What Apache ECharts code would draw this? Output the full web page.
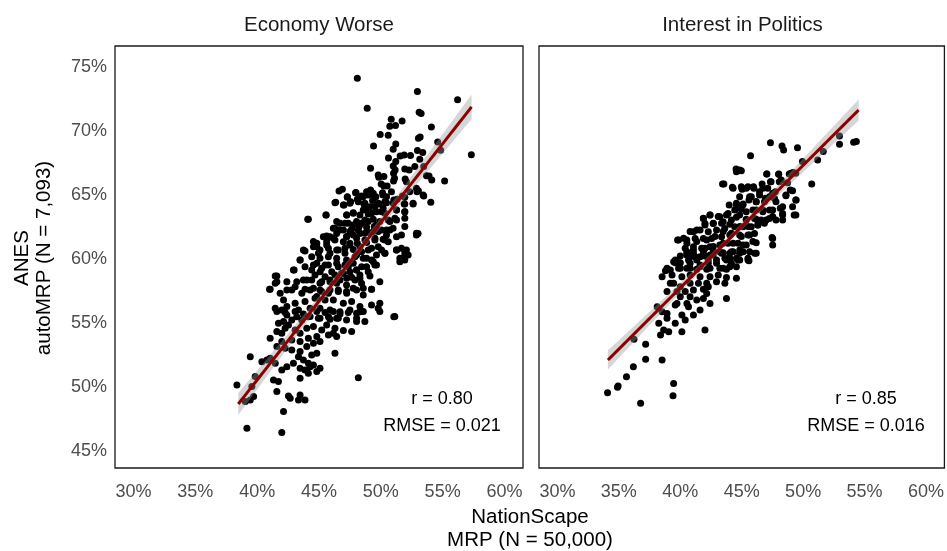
<!DOCTYPE html>
<html>
<head>
<meta charset="utf-8">
<script src="https://cdn.jsdelivr.net/npm/echarts@6/dist/echarts.min.js"></script>
<style>
  html, body { margin: 0; padding: 0; background: #ffffff; }
  #chart { width: 947px; height: 551px; }
</style>
</head>
<body>
<div id="chart"></div>
<script>
// Facet titles, tick values and the fit statistics printed in each panel
const panelTitles = ['Economy Worse', 'Interest in Politics'];
const xTicks = [30, 35, 40, 45, 50, 55, 60];
const yTicks = [45, 50, 55, 60, 65, 70, 75];
const rLabels = ['r = 0.80', 'r = 0.85'];
const rmseLabels = ['RMSE = 0.021', 'RMSE = 0.016'];

// Fitted regression line of each panel, as its two end points [x, y] in percent
const fitEndpoints = [
  [[38.47, 48.67], [57.34, 71.88]],
  [[34.11, 52.11], [54.52, 71.64]]
];

// District estimates, percent: [NationScape MRP, ANES autoMRP]
const economyWorse = [
  [48.10,74.12],[52.96,73.08],[56.21,72.45],[48.90,71.77],[53.10,71.46],[53.26,71.36],[50.84,70.91],[51.72,70.78],
  [50.73,70.37],[51.19,70.42],[54.09,70.32],[49.95,69.72],[50.60,69.66],[53.04,69.43],[53.18,69.53],[54.60,69.14],
  [51.21,68.99],[49.41,68.83],[51.00,68.57],[52.96,68.47],[53.39,68.31],[54.84,68.49],[57.32,68.15],[50.62,67.89],
  [51.56,68.05],[51.89,68.13],[52.40,68.08],[53.15,67.79],[51.21,67.61],[51.00,67.27],[49.17,67.09],[51.16,66.96],
  [51.03,66.70],[51.94,67.03],[52.29,66.96],[52.75,67.22],[53.47,67.22],[53.69,66.51],[53.90,66.49],[54.12,66.17],
  [55.16,66.10],[51.97,66.25],[52.07,66.04],[49.79,66.57],[49.84,66.38],[50.25,66.44],[51.11,66.31],[51.03,66.10],
  [50.03,65.86],[50.25,65.71],[50.51,65.71],[46.89,65.45],[47.29,64.87],[47.99,65.19],[48.58,64.87],[48.98,65.00],
  [49.17,65.39],[49.39,65.13],[50.17,65.00],[50.46,64.87],[52.88,65.52],[53.04,65.34],[53.42,65.00],[51.94,64.82],
  [51.32,64.66],
  [46.62,65.31],[47.29,64.82],[47.96,65.18],[48.44,64.92],[48.85,65.26],[49.25,65.08],[49.60,64.87],[50.14,65.18],
  [50.86,65.26],[51.75,64.92],[52.34,65.26],[52.93,65.26],[53.47,64.92],[54.04,64.43],[52.61,64.30],[51.89,64.30],
  [46.35,64.43],[47.02,64.22],[47.56,64.48],[48.10,64.66],[48.63,64.30],[49.33,64.56],[49.87,64.30],[50.46,64.40],
  [51.05,64.61],[48.85,63.96],[49.52,64.09],[50.19,63.96],[45.57,63.44],[44.09,63.10],[47.24,63.44],[47.77,63.62],
  [48.31,63.44],[48.98,63.51],[49.65,63.70],[50.33,63.57],[51.94,63.70],[51.27,63.83],[46.70,62.79],[47.37,62.79],
  [48.04,62.92],[48.71,63.05],[49.39,63.10],[49.92,62.92],[50.60,63.05],[51.13,63.18],[51.94,63.18],[46.29,62.40],
  [46.97,62.27],[47.64,62.32],[48.26,62.58],[48.85,62.47],[49.47,62.53],[46.43,62.00],[45.35,61.74],[45.89,61.74],
  [47.23,61.74],[47.77,61.87],[48.31,62.00],[48.98,62.06],[49.79,62.14],[50.46,62.27],[50.99,62.40],[50.46,61.87],
  [52.88,61.87],[53.01,62.00],[51.94,62.53],[44.82,61.22],[45.62,61.35],[46.29,61.48],[46.97,61.35],[47.50,61.22],
  [48.10,61.22],[48.85,61.28],[49.52,61.48],[50.19,61.54],[50.60,61.35],[51.27,61.74],[44.55,60.96],[45.08,60.70],
  [45.76,60.83],[46.43,60.70],[47.10,60.83],[47.77,60.75],[48.44,60.57],[49.25,60.83],[50.06,60.70],[50.33,60.44],
  [51.27,60.70],[51.67,60.83],[51.94,60.57],[51.54,60.05],[52.21,60.31],[43.87,60.62],[43.47,59.92],[44.41,60.18],
  [45.08,60.05],[45.76,60.18],[46.43,60.05],[47.23,59.92],[47.91,60.18],[48.58,60.05],[49.25,59.92],[49.65,60.31],
  [42.99,59.14],[41.59,58.67],[43.87,59.40],[44.55,59.53],[45.22,59.27],[45.76,59.53],[46.56,59.40],[47.37,59.40],
  [48.04,59.14],[48.85,59.40],[49.52,59.53],[44.68,58.75],[45.49,58.62],[46.29,58.75],[46.97,58.88],[47.64,58.57],
  [48.31,58.75],[49.12,58.67],[41.46,58.10],[42.40,58.23],[43.20,58.23],[44.01,58.36],[45.08,58.10],[45.89,58.23],
  [46.43,58.10],[47.23,57.97],[47.91,58.36],[48.44,58.10],[49.25,57.63],[49.92,58.23],[41.00,57.63],[41.86,57.32],
  [42.80,57.58],[43.61,57.32],[44.28,57.58],[45.08,57.58],[45.76,57.32],[46.56,57.58],[47.23,57.45],[48.04,57.58],
  [48.58,57.19],[42.13,56.80],[43.07,56.54],[43.87,56.67],[44.68,56.93],[45.49,56.80],[46.16,56.80],[46.97,56.54],
  [47.64,56.67],[48.31,56.28],[41.46,56.15],[41.99,56.02],[42.40,56.28],[43.34,56.02],[44.28,56.15],[45.08,56.15],
  [45.89,56.02],[46.70,55.88],[47.50,56.02],[48.31,55.88],[49.79,56.15],[49.92,56.54],[49.25,56.41],[42.40,55.62],
  [43.20,55.49],[44.14,55.49],[44.95,55.36],[45.76,55.49],[46.43,55.36],[48.04,55.36],[51.05,55.49],
  [41.59,55.89],[42.26,55.81],[43.07,55.89],[43.74,55.71],[44.82,55.89],[45.49,55.81],[46.16,55.89],[46.70,55.71],
  [47.37,55.81],[48.04,55.76],[48.58,55.89],[49.92,55.89],[51.13,55.50],[48.71,55.11],[48.04,55.11],[47.23,55.24],
  [46.56,55.37],[45.89,55.29],[45.08,55.37],[44.28,55.50],[43.61,55.24],[42.80,55.24],[42.13,55.11],[41.72,54.98],
  [42.53,54.85],[41.05,53.81],[41.59,54.33],[41.99,54.20],[42.26,54.59],[43.07,54.46],[43.47,54.20],[44.01,54.59],
  [44.55,54.72],[45.22,54.46],[45.62,54.85],[46.29,54.59],[46.97,54.41],[47.64,54.33],[46.43,53.94],[45.76,54.07],
  [44.82,53.94],[44.14,53.81],[43.47,53.55],[42.80,53.68],[41.99,53.55],[41.59,53.16],[44.55,53.42],[45.08,53.55],
  [46.16,54.20],[42.26,53.03],[42.80,52.89],[43.47,52.77],[44.01,53.16],[44.41,52.50],[44.82,52.63],[46.29,52.63],
  [43.34,52.37],[43.74,52.11],[44.14,51.85],[44.28,51.59],[39.44,52.37],[40.38,51.98],[40.78,52.11],[41.05,52.24],
  [41.46,51.85],[41.99,51.33],[42.40,51.59],[42.93,51.85],[43.47,51.46],[43.87,51.33],[44.55,51.72],[45.08,51.46],
  [44.82,51.20],[41.32,50.55],[41.72,50.42],[39.84,50.81],[38.36,50.16],[39.57,50.03],[39.71,49.25],[39.44,48.99],
  [39.04,48.86],[41.59,49.64],[42.53,49.30],[42.67,49.12],[43.34,48.99],[43.47,49.38],[43.87,48.99],[42.13,48.08],
  [48.18,50.73],[44.14,51.07],[43.47,50.68],[39.17,46.78],[41.99,46.44],
  [46.29,64.40],[46.97,64.22],[47.50,64.35],[48.18,64.48],[48.71,64.35],[49.12,64.09],[49.79,64.35],[50.33,64.48],
  [51.00,64.35],[51.94,64.30],[52.61,64.35],[44.14,63.10],[45.57,63.44],[47.24,63.44],[47.77,63.57],[48.58,63.83],
  [49.25,63.57],[50.06,63.70],[51.27,63.83],[51.94,63.70],[46.43,62.92],[47.10,62.79],[47.77,62.66],[48.45,62.79],
  [48.98,62.92],[49.65,62.66],[50.73,62.92],[51.27,63.05],[46.16,62.40],[46.70,62.27],[47.50,62.14],[48.18,62.27],
  [48.71,62.01],[49.39,62.14],[50.06,62.27],[50.73,62.27],[51.67,61.88],[52.88,62.01],[45.62,61.80],[46.16,61.62],
  [47.24,61.75],[48.04,61.62],[48.71,61.49],[49.52,61.62],[50.33,61.49],[44.55,61.36],[44.82,60.96],[45.62,61.09],
  [46.56,60.70],[47.50,61.09],[48.31,60.96],[48.98,60.70],[49.79,60.96],[51.27,60.70],[52.07,60.70],[51.94,60.31],
  [50.33,60.44],[43.74,60.70],[44.95,60.44],[45.89,60.44],[47.10,60.44],[48.04,60.31],[48.85,60.05],[49.39,59.79],
  [51.54,59.79],[51.94,59.92],[43.47,59.92],[44.82,59.66],[45.49,59.53],[46.43,59.66],[47.10,59.53],[47.77,59.66],
  [48.45,59.40],[49.65,59.53],[42.93,59.14],[44.41,59.14],[45.09,59.01],[46.03,59.01],[46.83,58.88],[47.50,59.01],
  [48.04,59.14],[48.98,59.01],[41.46,58.67],[41.59,58.23],[43.74,58.36],[44.41,58.36],[45.22,58.23],[45.89,58.36],
  [46.70,58.36],[47.24,58.49],[48.31,58.49],[41.05,57.63],[42.40,57.58],[43.07,57.84],[43.87,57.63],[44.55,57.71],
  [45.22,57.45],[45.89,57.58],[46.56,57.45],[47.24,57.32],[47.77,57.71],[48.58,57.71],[49.25,57.63],[44.82,57.06]
];

const interestInPolitics = [
  [47.34,69.09],[48.28,68.83],[48.41,68.52],[49.54,68.70],[45.72,68.07],[52.96,69.61],[52.96,68.96],[54.11,69.12],
  [54.33,69.17],[51.64,68.39],[51.18,67.74],[49.94,67.61],[49.19,66.75],[48.87,66.64],[44.54,67.03],[44.97,66.90],
  [47.04,66.64],[48.01,66.62],[48.22,66.17],[47.34,66.04],[46.72,65.52],[45.99,65.52],[45.37,65.52],[45.03,65.44],
  [44.30,65.52],[43.55,65.86],[50.70,65.86],[48.95,65.39],[48.60,64.95],[49.43,64.61],[47.52,65.13],[47.26,64.87],
  [46.45,65.00],[45.78,64.87],[45.59,64.61],[46.18,64.48],[46.85,64.48],[47.79,64.48],[44.57,64.35],[45.11,64.30],
  [43.98,64.22],[44.43,63.83],[44.97,63.88],[45.37,63.70],[46.18,63.83],[46.72,63.70],[47.26,63.83],[48.14,63.96],
  [48.33,63.44],[49.41,63.44],[47.52,63.31],[46.99,63.05],[46.18,63.10],[45.37,63.10],[44.57,63.26],[43.76,63.44],
  [43.09,63.31],[42.42,63.44],[41.88,63.18],[42.01,62.66],[42.69,62.79],[43.36,62.79],[44.03,62.71],[44.84,62.53],
  [45.51,62.53],[46.32,62.66],[47.47,61.67],[48.33,63.05],[46.85,62.79],[41.34,62.27],[40.80,62.14],[40.27,61.62],
  [39.78,61.49],[40.54,61.23],[41.34,61.36],[42.15,61.49],[42.82,61.75],[43.49,62.14],[44.16,62.01],[44.97,61.75],
  [45.64,61.88],[45.91,61.36],[45.11,61.10],[44.30,61.23],[43.49,61.23],[42.69,60.97],[42.01,60.84],[41.07,60.71],
  [40.54,60.44],[40.00,60.24],[40.80,60.18],[41.61,60.18],[42.42,60.31],[43.22,60.57],[44.03,60.44],[44.84,60.71],
  [45.51,60.05],[44.57,60.05],[44.03,60.05],[39.59,59.92],
  [40.54,60.57],[41.07,60.44],[41.88,60.57],[42.69,60.62],[43.49,60.49],[44.30,60.57],[45.11,60.57],[46.05,60.44],
  [45.59,59.87],[44.84,59.92],[44.16,59.66],[43.63,60.05],[42.95,59.92],[42.28,59.92],[41.34,59.92],[40.67,59.92],
  [39.59,59.71],[39.86,59.71],[39.19,59.14],[38.79,59.09],[40.00,59.27],[40.80,59.27],[41.61,59.40],[42.42,59.27],
  [43.22,59.27],[43.76,59.19],[44.57,59.40],[38.52,58.62],[39.33,58.75],[39.46,58.10],[40.13,58.62],[40.80,58.75],
  [41.61,58.62],[42.42,58.62],[43.09,58.75],[43.76,58.56],[44.57,58.49],[43.63,58.10],[42.95,58.23],[42.15,58.10],
  [41.48,58.10],[40.80,58.10],[40.00,57.84],[39.19,58.10],[38.92,57.45],[39.73,57.45],[40.40,57.45],[41.07,57.57],
  [41.88,57.63],[42.28,57.84],[40.00,57.05],[40.80,57.05],[41.34,56.79],[41.88,56.92],[42.42,56.53],[42.15,57.31],
  [43.76,56.92],[39.73,56.53],[40.54,56.53],[40.67,56.27],[39.59,56.40],[38.12,56.27],[38.52,55.88],[38.92,55.75],
  [40.13,55.62],[40.40,55.23],[41.07,55.62],[41.61,56.01],[38.25,54.97],[38.92,55.36],[39.59,54.97],[38.65,54.45],
  [39.06,54.32],[38.39,54.06],[40.13,54.32],[42.01,54.45],[37.18,53.33],[36.23,53.72],[37.18,52.16],[38.52,52.11],
  [36.18,51.59],[35.62,50.80],[34.94,50.08],[34.89,49.97],[34.08,49.55],[36.77,48.72],[39.46,50.28],[39.41,49.32],
  [44.57,66.82],[44.83,66.95],[47.04,66.64],[48.01,66.64],[49.00,66.69],[49.40,66.69],[43.44,65.86],[44.24,65.60],
  [44.97,65.65],[45.51,65.65],[45.96,65.65],[46.66,65.86],[47.39,66.04],[48.06,66.04],[48.73,65.96],[49.14,65.34],
  [48.60,65.00],[49.40,64.61],[47.74,65.26],[47.12,65.52],[46.45,65.26],[45.64,64.87],[44.83,64.87],[46.18,64.48],
  [46.93,64.74],[47.66,64.74],[48.33,64.09],[49.14,64.09],[49.27,63.43],[48.33,63.56],[47.52,63.83],[46.72,63.83],
  [45.91,63.83],[45.10,64.22],[44.57,64.22],[43.89,63.56],[43.22,63.30],[42.42,63.43],[41.88,63.17],[42.01,62.78],
  [42.68,62.78],[43.49,62.91],[44.16,63.04],[44.83,63.43],[45.37,63.04],[46.04,63.17],[46.58,63.04],[47.25,63.17],
  [47.79,63.04],[41.07,62.13],[41.61,62.26],[42.28,62.13],[42.95,62.26],[43.62,62.39],[44.43,62.52],[45.10,62.52],
  [45.78,62.52],[46.31,62.65],[39.86,61.48],[40.53,61.48],[41.21,61.61],[41.88,61.61],[42.55,61.61],[43.36,61.74],
  [44.03,61.87],[44.83,61.87],[45.51,61.87],[46.04,62.00],[47.52,61.61],[47.52,61.09],[40.40,60.83],[41.07,60.96],
  [41.74,60.83],[42.42,60.96],[43.22,61.09],[43.89,61.22],[44.70,61.22],[45.37,61.09],[46.18,61.27],[40.53,60.31],
  [41.21,60.18],[42.01,60.23],[42.68,60.31],[43.36,60.44],[44.16,60.57],[44.83,60.44],[45.64,60.57],[46.18,60.44],
  [39.46,59.79],[40.00,59.71],[40.80,59.66],[41.61,59.53],[42.28,59.66],[42.95,59.66],[43.76,59.92],[44.70,59.92],
  [45.51,59.92],[38.92,59.27],[39.86,59.27],[40.53,59.27],[41.34,59.19],[42.15,59.19],[43.49,59.27],[44.03,59.40]
];

// Regression line through the given end points, with a 95% confidence band
// whose width comes from the residual spread of the points around it
function fitWithBand(points, ends) {
  const [[x0, y0], [x1, y1]] = ends;
  const slope = (y1 - y0) / (x1 - x0);
  const icpt = y0 - slope * x0;
  const n = points.length;
  let mx = 0;
  points.forEach(p => { mx += p[0]; });
  mx /= n;
  let sxx = 0, sse = 0;
  points.forEach(p => {
    sxx += (p[0] - mx) ** 2;
    const e = p[1] - (icpt + slope * p[0]);
    sse += e * e;
  });
  const s = Math.sqrt(sse / (n - 2));
  const line = [], band = [];
  const steps = 80;
  for (let i = 0; i <= steps; i++) {
    const x = x0 + (x1 - x0) * i / steps;
    const yh = icpt + slope * x;
    const se = s * Math.sqrt(1 / n + (x - mx) ** 2 / sxx);
    line.push([x, yh]);
    band.push([x, yh - 1.966 * se, yh + 1.966 * se]);
  }
  return { line, band };
}

const panels = [economyWorse, interestInPolitics];
const fits = panels.map((pts, i) => fitWithBand(pts, fitEndpoints[i]));

const FONT = '"Liberation Sans", Arial, Helvetica, sans-serif';
const gridLefts = [115, 539];
const gridWidths = [408, 407];
const GRID_TOP = 46, GRID_H = 422;

const grids = gridLefts.map((l, i) => ({
  left: l, top: GRID_TOP, width: gridWidths[i], height: GRID_H,
  show: true, borderColor: '#1a1a1a', borderWidth: 1.3, backgroundColor: 'transparent'
}));

const xAxes = panels.map((_, i) => ({
  type: 'value', gridIndex: i, min: 28.5, max: 61.5,
  axisLine: { show: false }, axisTick: { show: false }, splitLine: { show: false },
  axisLabel: {
    customValues: xTicks, formatter: v => v + '%',
    color: '#4d4d4d', fontSize: 18, fontFamily: FONT, margin: 15
  }
}));

const yAxes = panels.map((_, i) => ({
  type: 'value', gridIndex: i, min: 43.67, max: 76.64,
  axisLine: { show: false }, axisTick: { show: false }, splitLine: { show: false },
  axisLabel: {
    show: i === 0, customValues: yTicks, formatter: v => v + '%',
    color: '#4d4d4d', fontSize: 18, fontFamily: FONT, margin: 8,
    padding: [4, 0, 0, 0]
  }
}));

const series = [];
panels.forEach((pts, i) => {
  series.push({
    type: 'scatter', xAxisIndex: i, yAxisIndex: i, data: pts,
    symbol: 'circle', symbolSize: 7, itemStyle: { color: '#000000', opacity: 1 },
    z: 2, silent: true
  });
  const band = fits[i].band;
  series.push({
    type: 'custom', xAxisIndex: i, yAxisIndex: i, data: [[band[0][0], band[0][1]]],
    z: 3, silent: true,
    renderItem: (params, api) => {
      const upper = band.map(b => api.coord([b[0], b[2]]));
      const lower = band.slice().reverse().map(b => api.coord([b[0], b[1]]));
      return {
        type: 'polygon',
        shape: { points: upper.concat(lower) },
        style: { fill: 'rgba(153,153,153,0.4)' }
      };
    }
  });
  series.push({
    type: 'line', xAxisIndex: i, yAxisIndex: i, data: fits[i].line,
    showSymbol: false, lineStyle: { color: '#8b0000', width: 3 }, z: 4, silent: true
  });
});

const graphics = [];
panelTitles.forEach((t, i) => {
  graphics.push({
    type: 'text', x: gridLefts[i] + gridWidths[i] / 2, y: 25,
    style: { text: t, font: '20.5px ' + FONT, fill: '#1a1a1a', textAlign: 'center', textVerticalAlign: 'middle' }
  });
  const cx = gridLefts[i] + 327;
  graphics.push({
    type: 'text', x: cx, y: 399,
    style: { text: rLabels[i], font: '18px ' + FONT, fill: '#000', textAlign: 'center', textVerticalAlign: 'middle' }
  });
  graphics.push({
    type: 'text', x: cx, y: 426,
    style: { text: rmseLabels[i], font: '18px ' + FONT, fill: '#000', textAlign: 'center', textVerticalAlign: 'middle' }
  });
});
graphics.push({
  type: 'text', x: 530, y: 517,
  style: { text: 'NationScape', font: '20.5px ' + FONT, fill: '#000', textAlign: 'center', textVerticalAlign: 'middle' }
});
graphics.push({
  type: 'text', x: 530, y: 540,
  style: { text: 'MRP (N = 50,000)', font: '20.5px ' + FONT, fill: '#000', textAlign: 'center', textVerticalAlign: 'middle' }
});
graphics.push({
  type: 'text', x: 33, y: 258, rotation: Math.PI / 2,
  style: { text: 'ANES\nautoMRP (N = 7,093)', font: '20.5px ' + FONT, fill: '#000', textAlign: 'center', textVerticalAlign: 'middle', lineHeight: 22 }
});

const chart = echarts.init(document.getElementById('chart'), null, { renderer: 'canvas' });
chart.setOption({
  animation: false,
  backgroundColor: '#ffffff',
  grid: grids,
  xAxis: xAxes,
  yAxis: yAxes,
  series: series,
  graphic: graphics
});
</script>
</body>
</html>
